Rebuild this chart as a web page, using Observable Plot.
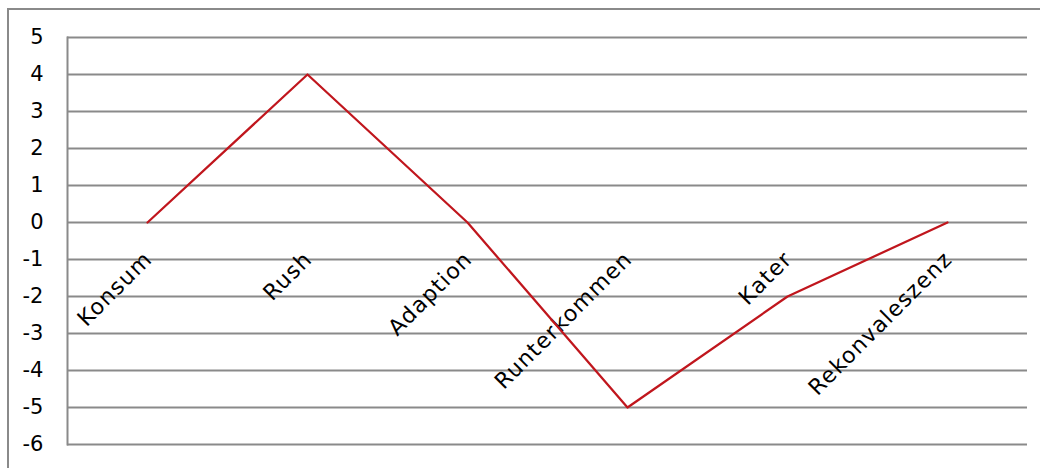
<!DOCTYPE html>
<html><head><meta charset="utf-8">
<script src="https://cdn.jsdelivr.net/npm/d3@7"></script>
<script src="https://cdn.jsdelivr.net/npm/@observablehq/plot@0.6"></script>
<style>
body{margin:0;background:#fff;}
#wrap{position:relative;width:1040px;height:468px;overflow:hidden;}
#frame{position:absolute;left:7px;top:8px;right:-4px;bottom:-4px;border-left:2px solid #8a8a8a;border-top:2px solid #8a8a8a;pointer-events:none;}
</style></head><body><div id="wrap"><div id="frame"></div></div>
<script>
const phases = ["Konsum", "Rush", "Adaption", "Runterkommen", "Kater", "Rekonvaleszenz"];
const values = [0, 4, 0, -5, -2, 0];
const yTicks = [-6, -5, -4, -3, -2, -1, 0, 1, 2, 3, 4, 5];
const yDomain = [-6, 5];
const labelLevel = 0;

const data = phases.map((p, i) => ({phase: p, value: values[i]}));

const chart = Plot.plot({
  width: 1040,
  height: 468,
  marginLeft: 67,
  marginRight: 13,
  marginTop: 37,
  marginBottom: 24,
  style: {fontFamily: "DejaVu Sans", fontSize: "21px", color: "#000", background: "transparent"},
  x: {type: "point", domain: phases, padding: 0.5, axis: null},
  y: {domain: yDomain, ticks: yTicks, tickSize: 0, tickPadding: 24, label: null, tickFormat: d => d < 0 ? "-" + Math.abs(d) : String(d)},
  marks: [
    Plot.ruleY(yTicks, {stroke: "#8a8a8a", strokeWidth: 2, strokeOpacity: 1}),
    Plot.frame({anchor: "left", stroke: "#8a8a8a", strokeWidth: 2, strokeOpacity: 1}),
    Plot.text(data, {x: "phase", y: () => labelLevel, text: "phase", rotate: -45, textAnchor: "end", dx: 1, dy: 33, fontSize: 22, fill: "#000", className: "catlabels"}),
    Plot.line(data, {x: "phase", y: "value", stroke: "#C0161D", strokeWidth: 2.25})
  ]
});
d3.select(chart).selectAll(".catlabels text").attr("letter-spacing", "1.2px");
d3.select(chart).style("position", "absolute").style("left", "0px").style("top", "0px");
document.getElementById("wrap").prepend(chart);
</script>
</body></html>
